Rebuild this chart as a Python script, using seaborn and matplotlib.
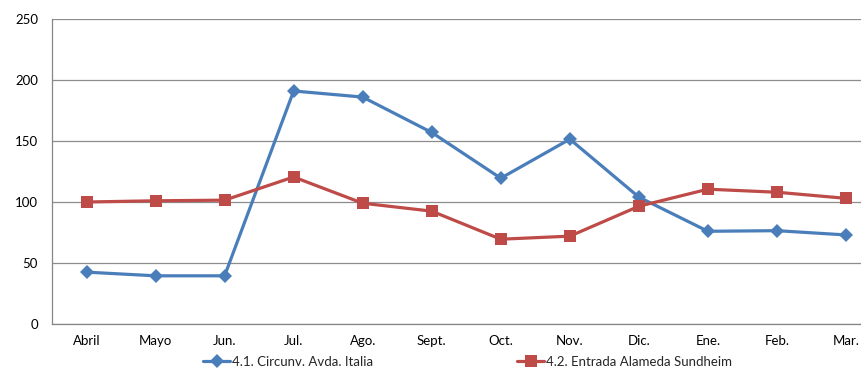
import matplotlib
matplotlib.use("Agg")
import matplotlib.pyplot as plt
import seaborn as sns
import pandas as pd
import numpy as np

months = ["Abril", "Mayo", "Jun.", "Jul.", "Ago.", "Sept.", "Oct.", "Nov.", "Dic.", "Ene.", "Feb.", "Mar."]
series_names = ["4.1. Circunv. Avda. Italia", "4.2. Entrada Alameda Sundheim"]
italia = [42.5, 39.5, 39.5, 191, 186, 157, 119.5, 151.5, 104, 76, 76.5, 73]
sundheim = [100, 101, 101.5, 120.5, 99, 92.5, 69.5, 72, 96.5, 110.5, 108, 103]
y_ticks = [0, 50, 100, 150, 200, 250]

df = pd.DataFrame({
    "mes": months * 2,
    "valor": italia + sundheim,
    "serie": [series_names[0]] * len(months) + [series_names[1]] * len(months),
})

sns.set_theme(style="white")
plt.rcParams["font.family"] = ["Lato", "DejaVu Sans"]

fig = plt.figure(figsize=(8.61, 3.71), dpi=100)
ax = fig.add_axes([52 / 861, 47 / 371, (880.5 - 52) / 861, (324 - 19) / 371])

palette = {series_names[0]: "#4A7EBB", series_names[1]: "#BE4B48"}
sns.lineplot(data=df, x="mes", y="valor", hue="serie", style="serie",
             markers={series_names[0]: "D", series_names[1]: "s"},
             dashes=False, palette=palette, linewidth=2.3, markersize=7,
             markeredgewidth=0, sort=False, ax=ax, legend=True)

for line in ax.lines:
    if line.get_marker() == "s":
        line.set_markersize(8.5)

ax.set_xlim(-0.5, len(months) - 0.5)
ax.set_ylim(0, 250)
ax.set_yticks(y_ticks)
ax.set_xticks(range(len(months)))
ax.set_xticklabels(months)
ax.set_xticks(np.arange(-0.5, len(months), 1.0), minor=True)
ax.tick_params(axis="x", which="major", length=0, pad=8, labelsize=9.5, colors="#000000")
ax.tick_params(axis="x", which="minor", length=5, width=0.8, color="#868686", direction="out")
ax.tick_params(axis="y", which="major", length=4, width=0.8, color="#868686", direction="out",
               pad=6, labelsize=9.5, labelcolor="#000000")
ax.set_xlabel("")
ax.set_ylabel("")
ax.grid(axis="y", color="#8c8c8c", linewidth=0.9)
ax.set_axisbelow(True)

for side in ["top", "right"]:
    ax.spines[side].set_visible(False)
for side in ["left", "bottom"]:
    ax.spines[side].set_color("#868686")
    ax.spines[side].set_linewidth(0.9)

# One legend entry per series, laid out side by side beneath the axis
handles, labels = ax.get_legend_handles_labels()
ax.get_legend().remove()
legend_x = [203 / 861, 517 / 861]
for h, lab, x0 in zip(handles, labels, legend_x):
    fig.legend([h], [lab], loc="center left", bbox_to_anchor=(x0, 1 - 362 / 371),
               frameon=False, fontsize=9.5, handlelength=2.05, handletextpad=0.15,
               borderaxespad=0, borderpad=0)

fig.savefig("out.png", dpi=100)
